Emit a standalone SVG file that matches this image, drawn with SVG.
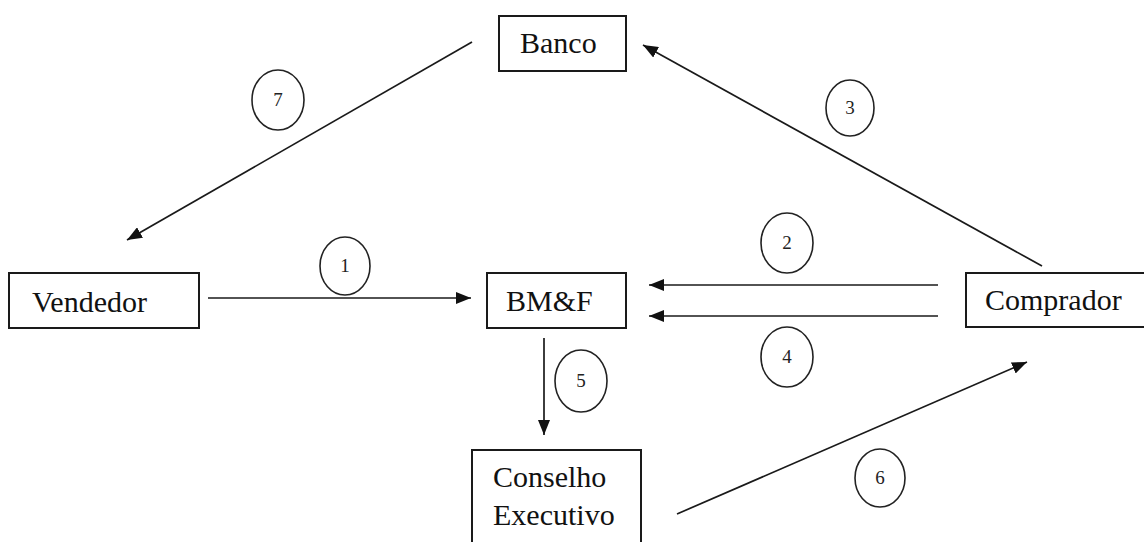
<svg xmlns="http://www.w3.org/2000/svg" width="1144" height="542" viewBox="0 0 1144 542">
<defs>
<style>
.box{fill:#fff;stroke:#1a1a1a;stroke-width:2}
.lbl{font-family:"Liberation Serif","DejaVu Serif","Times New Roman",serif;font-size:30px;fill:#111}
.num{font-family:"Liberation Serif","DejaVu Serif","Times New Roman",serif;font-size:19px;fill:#222;text-anchor:middle}
.circ{fill:none;stroke:#222;stroke-width:1.6}
.con{stroke:#1a1a1a;stroke-width:1.7;fill:none;marker-end:url(#ah)}
</style>
<marker id="ah" markerUnits="userSpaceOnUse" markerWidth="16" markerHeight="12" refX="15" refY="6" orient="auto">
<path d="M0,0 L15,6 L0,12 Z" fill="#111"/>
</marker>
</defs>
<rect width="1144" height="542" fill="#fff"/>
<g id="banco"><rect class="box" x="499" y="16" width="127" height="55"/><text class="lbl" x="520" y="53">Banco</text></g>
<g id="vendedor"><rect class="box" x="9" y="273" width="190" height="55"/><text class="lbl" x="32" y="312">Vendedor</text></g>
<g id="bmf"><rect class="box" x="487" y="273" width="139" height="55"/><text class="lbl" x="506" y="311">BM&amp;F</text></g>
<g id="comprador"><rect class="box" x="966" y="273" width="180" height="54"/><text class="lbl" x="985" y="310">Comprador</text></g>
<g id="conselho"><rect class="box" x="472" y="450" width="169" height="100"/><text class="lbl" x="493" y="487">Conselho</text><text class="lbl" x="493" y="525">Executivo</text></g>
<g id="connectors">
<line class="con" x1="472" y1="42" x2="127" y2="240"/>
<line class="con" x1="1042" y1="266" x2="643" y2="45"/>
<line class="con" x1="208" y1="298" x2="471" y2="298"/>
<line class="con" x1="938" y1="285" x2="649" y2="285"/>
<line class="con" x1="938" y1="316" x2="649" y2="316"/>
<line class="con" x1="544" y1="338" x2="544" y2="435"/>
<line class="con" x1="677" y1="514" x2="1027" y2="362"/>
</g>
<g id="labels">
<g id="n7"><ellipse class="circ" cx="278" cy="100" rx="26" ry="30"/><text class="num" x="278" y="106">7</text></g>
<g id="n1"><ellipse class="circ" cx="345" cy="266" rx="25" ry="29"/><text class="num" x="345" y="272">1</text></g>
<g id="n3"><ellipse class="circ" cx="850" cy="108" rx="24" ry="28"/><text class="num" x="850" y="114">3</text></g>
<g id="n2"><ellipse class="circ" cx="787" cy="243" rx="26" ry="30"/><text class="num" x="787" y="249">2</text></g>
<g id="n4"><ellipse class="circ" cx="787" cy="357" rx="26" ry="30"/><text class="num" x="787" y="363">4</text></g>
<g id="n5"><ellipse class="circ" cx="581" cy="381" rx="26" ry="31"/><text class="num" x="581" y="387">5</text></g>
<g id="n6"><ellipse class="circ" cx="880" cy="478" rx="25" ry="29"/><text class="num" x="880" y="484">6</text></g>
</g>
</svg>
